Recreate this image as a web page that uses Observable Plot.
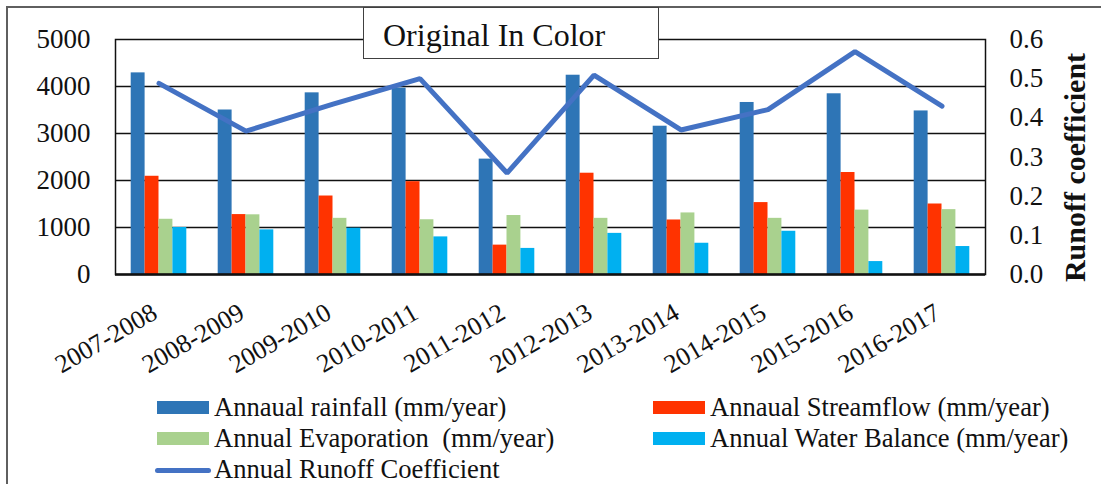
<!DOCTYPE html>
<html>
<head>
<meta charset="utf-8">
<script src="https://cdn.jsdelivr.net/npm/d3@7"></script>
<script src="https://cdn.jsdelivr.net/npm/@observablehq/plot@0.6"></script>
<style>
  html, body { margin: 0; padding: 0; background: white; }
  body { width: 1101px; height: 484px; position: relative; overflow: hidden;
         font-family: "Liberation Serif", "Times New Roman", serif; color: #111; }
  #chart { position: absolute; left: 0; top: 0; }
  #chart svg { background: transparent; }
  #border { position: absolute; left: 6px; top: 6px; width: 1110px; height: 500px;
            border: 2px solid #5f5f5f; pointer-events: none; box-sizing: border-box; }
  #title { position: absolute; left: 363px; top: 7px; width: 296px; height: 52px;
           box-sizing: border-box; border: 1.5px solid #404040; background: white;
           font-size: 32px; line-height: 52px; padding-left: 19px; padding-top: 1px; white-space: nowrap; }
  #legend { position: absolute; left: 155px; top: 391.6px; display: grid;
            grid-template-columns: 496px auto; grid-auto-rows: 31.4px;
            font-size: 26.6px; line-height: 31.4px; }
  .item { display: flex; align-items: center; white-space: pre; }
  .sw { display: inline-block; width: 52px; height: 13px; margin: 0 5px 0 2px; }
  .ln { display: inline-block; width: 56px; height: 5px; border-radius: 3px; margin-right: 3px; }
</style>
</head>
<body>
<div id="chart"></div>
<div id="border"></div>
<div id="title">Original In Color</div>
<div id="legend"></div>
<script>
// Hydrological years
const years = ["2007-2008", "2008-2009", "2009-2010", "2010-2011", "2011-2012",
               "2012-2013", "2013-2014", "2014-2015", "2015-2016", "2016-2017"];

// Annual totals in mm/year
const rainfall     = [4290, 3500, 3865, 3965, 2455, 4240, 3155, 3660, 3845, 3480];
const streamflow   = [2090, 1275, 1670, 1975,  625, 2155, 1160, 1530, 2170, 1500];
const evaporation  = [1175, 1270, 1195, 1165, 1255, 1195, 1310, 1195, 1370, 1380];
const waterBalance = [1000,  950,  985,  800,  555,  875,  665,  920,  275,  595];

// Annual runoff coefficient (right axis)
const runoff = [0.488, 0.366, 0.435, 0.500, 0.259, 0.509, 0.369, 0.421, 0.569, 0.430];

// Axis ticks
const leftTicks  = [0, 1000, 2000, 3000, 4000, 5000];
const rightTicks = [0, 0.1, 0.2, 0.3, 0.4, 0.5, 0.6];

const seriesKeys   = ["rainfall", "streamflow", "evaporation", "waterBalance"];
const seriesLabels = ["Annaual rainfall (mm/year)", "Annaual Streamflow (mm/year)",
                      "Annual Evaporation  (mm/year)", "Annual Water Balance (mm/year)"];
const seriesColors = ["#2E75B6", "#FF3300", "#A9D18E", "#00B0F0"];
const lineLabel = "Annual Runoff Coefficient";
const lineColor = "#4472C4";
const rightTitle = "Runoff coefficient";

const rows = years.map((year, i) => ({
  year,
  rainfall: rainfall[i],
  streamflow: streamflow[i],
  evaporation: evaporation[i],
  waterBalance: waterBalance[i],
  runoff: runoff[i]
}));

// Left axis runs 0–5000, right axis 0–0.6: map the coefficient onto the left scale
const yMax = 5000, y2Max = 0.6;
const toLeft = (v) => v * yMax / y2Max;

const W = 1101, H = 380;
const margin = {top: 39, right: 116, bottom: 106, left: 115};
const band = (W - margin.left - margin.right) / years.length;
const groupInset = 15.7;
const barW = (band - 2 * groupInset) / seriesKeys.length;

const bars = seriesKeys.map((key, i) => Plot.barY(rows, {
  x: "year",
  y: key,
  fill: seriesColors[i],
  insetLeft: groupInset + i * barW,
  insetRight: band - groupInset - (i + 1) * barW
}));

const chart = Plot.plot({
  width: W,
  height: H,
  marginTop: margin.top,
  marginRight: margin.right,
  marginBottom: margin.bottom,
  marginLeft: margin.left,
  style: {fontFamily: "'Liberation Serif', 'Times New Roman', serif", fontSize: "27px", color: "#111", background: "transparent"},
  x: {domain: years, padding: 0, axis: null},
  y: {domain: [0, yMax]},
  marks: [
    Plot.gridY(leftTicks.slice(1, -1), {stroke: "#111", strokeOpacity: 1, strokeWidth: 1.5}),
    ...bars,
    Plot.frame({stroke: "#111", strokeWidth: 1.5}),
    Plot.ruleY([0], {stroke: "#111", strokeWidth: 2.5}),
    Plot.axisY(leftTicks, {
      anchor: "left", tickSize: 0, tickPadding: 25, fontSize: 27, label: null,
      tickFormat: (d) => String(d)
    }),
    Plot.axisY(rightTicks.map(toLeft), {
      anchor: "right", tickSize: 0, tickPadding: 24, fontSize: 27, label: null,
      tickFormat: (d) => (d * y2Max / yMax).toFixed(1)
    }),
    Plot.text([rightTitle], {
      text: (d) => d, frameAnchor: "right", dx: 90, dy: 10.5, rotate: -90,
      fontSize: 30, fontWeight: "bold", textAnchor: "middle", lineAnchor: "middle"
    }),
    Plot.text(years, {
      x: (d) => d, text: (d) => d, frameAnchor: "bottom", dy: 43, rotate: -30,
      textAnchor: "end", lineAnchor: "bottom", fontSize: 26
    }),
    Plot.line(rows, {
      x: "year", y: (d) => toLeft(d.runoff), stroke: lineColor, strokeWidth: 5,
      strokeLinecap: "round", strokeLinejoin: "miter"
    })
  ]
});
document.getElementById("chart").append(chart);

// Legend below the chart: two columns of swatches, then the line entry
const legend = document.getElementById("legend");
seriesKeys.forEach((key, i) => {
  const item = document.createElement("div");
  item.className = "item";
  const sw = document.createElement("span");
  sw.className = "sw";
  sw.style.background = seriesColors[i];
  item.append(sw, document.createTextNode(seriesLabels[i]));
  legend.append(item);
});
const lineItem = document.createElement("div");
lineItem.className = "item";
const ln = document.createElement("span");
ln.className = "ln";
ln.style.background = lineColor;
lineItem.append(ln, document.createTextNode(lineLabel));
legend.append(lineItem);
</script>
</body>
</html>
